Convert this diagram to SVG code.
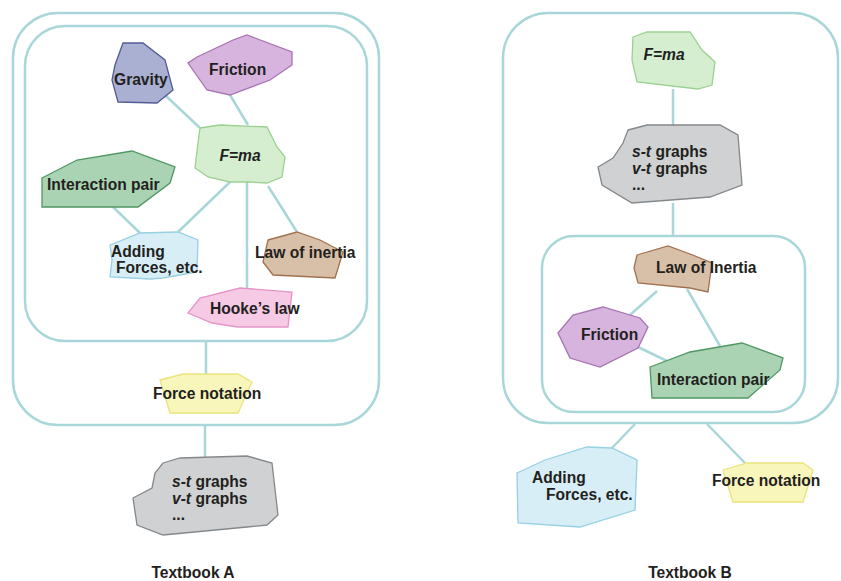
<svg xmlns="http://www.w3.org/2000/svg" width="841" height="581" viewBox="0 0 841 581">
<style>
.box{fill:none;stroke:#a9d7d9;stroke-width:2.5}
.ln{stroke:#a9d7d9;stroke-width:2.5;fill:none}
text{font-family:"Liberation Sans",Arial,sans-serif;font-weight:bold;font-size:15.6px;fill:#231f20}
.it{font-style:italic}
.grav{fill:#aab0d2;stroke:#525b96;stroke-width:1.3}
.fric{fill:#d6b4dd;stroke:#a873b4;stroke-width:1.3}
.fma{fill:#d5eed0;stroke:#9ad190;stroke-width:1.3}
.inter{fill:#aad3b4;stroke:#4f9762;stroke-width:1.3}
.add{fill:#d7eef7;stroke:#96d0e3;stroke-width:1.3}
.law{fill:#d8bfa8;stroke:#a1714f;stroke-width:1.3}
.hooke{fill:#f6cae4;stroke:#e594c7;stroke-width:1.3}
.fnot{fill:#f9f6bc;stroke:#e9e47c;stroke-width:1.3}
.st{fill:#cfd1d3;stroke:#85888b;stroke-width:1.3}
</style>
<rect width="841" height="581" fill="#ffffff"/>
<g id="boxes">
<rect id="outerA" class="box" x="13" y="13" width="366" height="412" rx="45"/>
<rect id="innerA" class="box" x="25" y="26" width="342" height="315" rx="40"/>
<rect id="outerB" class="box" x="503" y="13" width="335" height="410" rx="45"/>
<rect id="innerB" class="box" x="542" y="236" width="263" height="176" rx="32"/>
</g>
<g id="connectors">
<line class="ln" x1="165" y1="95" x2="200" y2="128"/>
<line class="ln" x1="230" y1="95" x2="248" y2="125"/>
<line class="ln" x1="230" y1="182" x2="178" y2="232"/>
<line class="ln" x1="268" y1="186" x2="297" y2="232"/>
<line class="ln" x1="247" y1="182" x2="247" y2="290"/>
<line class="ln" x1="113" y1="207" x2="140" y2="233"/>
<line class="ln" x1="206" y1="341" x2="206" y2="374"/>
<line class="ln" x1="205" y1="425" x2="205" y2="458"/>
<line class="ln" x1="673" y1="89" x2="673" y2="125"/>
<line class="ln" x1="673" y1="203" x2="673" y2="236"/>
<line class="ln" x1="657" y1="291" x2="630" y2="315"/>
<line class="ln" x1="687" y1="289" x2="720" y2="346"/>
<line class="ln" x1="638" y1="347" x2="667" y2="361"/>
<line class="ln" x1="635" y1="424" x2="612" y2="448"/>
<line class="ln" x1="707" y1="424" x2="745" y2="463"/>
</g>
<g id="A-gravity">
<polygon class="grav" points="123,43 143,43 165,60 173,90 157,103 118,102 112,80 115,65"/>
<text x="114" y="85">Gravity</text>
</g>
<g id="A-friction">
<polygon class="fric" points="197,57 233,40 247,35 292,52 292,65 270,80 230,95 207,90 188,63"/>
<text x="209" y="75">Friction</text>
</g>
<g id="A-fma">
<polygon class="fma" points="200,128 220,125 267,127 277,147 285,157 282,177 267,183 247,182 230,182 208,177 195,168 198,143"/>
<text x="240" y="161" text-anchor="middle" class="it">F=ma</text>
</g>
<g id="A-interaction">
<polygon class="inter" points="42,178 77,160 132,151 175,167 170,183 138,207 42,207"/>
<text x="47" y="190">Interaction pair</text>
</g>
<g id="A-adding">
<polygon class="add" points="110,245 140,233 178,232 198,240 197,272 163,278 150,279 110,277 112,260"/>
<text x="111" y="257">Adding</text>
<text x="116" y="273">Forces, etc.</text>
</g>
<g id="A-law">
<polygon class="law" points="268,240 297,232 320,240 343,252 335,278 273,275 263,262"/>
<text x="255" y="258">Law of inertia</text>
</g>
<g id="A-hooke">
<polygon class="hooke" points="188,313 200,298 240,288 292,292 288,327 238,327 212,323"/>
<text x="210" y="314">Hooke’s law</text>
</g>
<g id="A-forcenotation">
<polygon class="fnot" points="160,380 183,374 238,374 252,382 238,413 170,413"/>
<text x="153" y="399">Force notation</text>
</g>
<g id="A-graphs">
<polygon class="st" points="163,463 180,458 247,456 272,463 278,515 267,525 247,527 163,535 137,525 133,498 152,488 155,473"/>
<text x="172" y="487"><tspan class="it">s-t</tspan> graphs</text>
<text x="172" y="504"><tspan class="it">v-t</tspan> graphs</text>
<text x="172" y="520">...</text>
</g>
<g id="B-fma">
<polygon class="fma" points="633,37 647,32 690,32 702,50 715,62 712,85 698,89 637,82 632,60"/>
<text x="664" y="60" text-anchor="middle" class="it">F=ma</text>
</g>
<g id="B-graphs">
<polygon class="st" points="628,130 647,125 720,125 738,135 742,185 710,197 632,203 602,185 598,167 613,158 623,143"/>
<text x="632" y="157"><tspan class="it">s-t</tspan> graphs</text>
<text x="632" y="174"><tspan class="it">v-t</tspan> graphs</text>
<text x="632" y="190">...</text>
</g>
<g id="B-law">
<polygon class="law" points="637,255 668,246 690,254 712,263 708,292 690,288 638,283 634,268"/>
<text x="656" y="273">Law of Inertia</text>
</g>
<g id="B-friction">
<polygon class="fric" points="558,333 573,315 603,307 640,318 648,327 638,348 600,367 570,358"/>
<text x="581" y="340">Friction</text>
</g>
<g id="B-interaction">
<polygon class="inter" points="650,367 690,352 742,343 783,358 780,370 748,398 652,398"/>
<text x="657" y="385">Interaction pair</text>
</g>
<g id="B-adding">
<polygon class="add" points="517,473 545,460 587,447 612,448 637,460 635,510 580,527 518,523"/>
<text x="532" y="483">Adding</text>
<text x="546" y="500">Forces, etc.</text>
</g>
<g id="B-forcenotation">
<polygon class="fnot" points="723,470 747,463 803,463 813,470 803,502 733,502"/>
<text x="712" y="486">Force notation</text>
</g>
<g id="labels">
<text x="193" y="578" text-anchor="middle">Textbook A</text>
<text x="690" y="578" text-anchor="middle">Textbook B</text>
</g>
</svg>
